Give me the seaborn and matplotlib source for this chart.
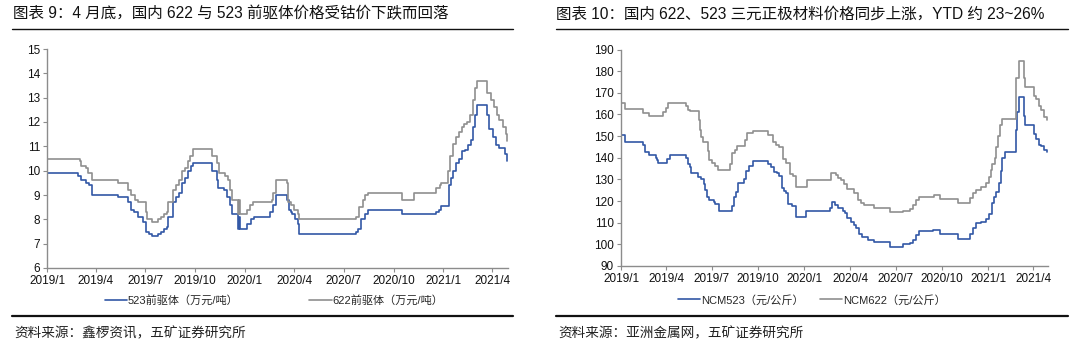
import matplotlib
matplotlib.use("Agg")
import matplotlib.pyplot as plt
from matplotlib.lines import Line2D
import seaborn as sns
import pandas as pd

# ---------------- data ----------------
# Left chart: precursor prices (10k CNY / t), step breakpoints
pre523_dates = ["2019-01-01", "2019-02-28", "2019-03-05", "2019-03-13", "2019-03-19", "2019-03-25",
                "2019-05-11", "2019-05-31", "2019-06-04", "2019-06-10", "2019-06-18", "2019-06-27",
                "2019-07-02", "2019-07-08", "2019-07-13", "2019-07-25", "2019-07-30", "2019-08-05",
                "2019-08-10", "2019-08-13", "2019-08-22", "2019-08-27", "2019-09-01", "2019-09-06",
                "2019-09-12", "2019-09-18", "2019-09-24", "2019-09-27", "2019-11-01", "2019-11-11",
                "2019-11-13", "2019-11-24", "2019-11-29", "2019-12-04", "2019-12-08", "2019-12-19",
                "2019-12-21", "2019-12-23", "2020-01-04", "2020-01-13", "2020-01-17", "2020-02-17",
                "2020-02-21", "2020-02-27", "2020-03-19", "2020-03-22", "2020-03-25", "2020-03-28",
                "2020-04-03", "2020-04-07", "2020-04-10", "2020-07-24", "2020-07-28", "2020-08-02",
                "2020-08-10", "2020-08-14", "2020-10-17", "2020-12-18", "2020-12-24", "2020-12-28",
                "2021-01-11", "2021-01-14", "2021-01-18", "2021-01-24", "2021-01-30", "2021-02-04",
                "2021-02-09", "2021-02-16", "2021-02-20", "2021-02-25", "2021-03-01", "2021-03-03",
                "2021-03-22", "2021-03-26", "2021-04-02", "2021-04-08", "2021-04-14", "2021-04-25",
                "2021-04-29"]
pre523_vals = [9.9, 9.8, 9.6, 9.5, 9.4, 9.0,
               8.9, 8.7, 8.4, 8.3, 8.1, 7.9,
               7.5, 7.4, 7.3, 7.4, 7.5, 7.6,
               7.7, 8.1, 8.7, 8.9, 9.1, 9.5,
               9.7, 10.0, 10.2, 10.3, 10.0, 9.6,
               9.3, 9.2, 8.9, 8.6, 8.2, 7.6,
               8.1, 7.6, 7.8, 8.0, 8.1, 8.3,
               8.6, 9.0, 8.8, 8.4, 8.3, 8.2,
               8.0, 7.8, 7.4, 7.5, 7.6, 8.0,
               8.2, 8.4, 8.2, 8.3, 8.4, 8.55,
               9.4, 9.7, 10.0, 10.3, 10.5, 10.8,
               10.85, 11.05, 11.25, 11.8, 12.3, 12.7,
               12.3, 11.7, 11.4, 11.05, 10.95, 10.7,
               10.4]

pre622_dates = ["2019-01-01", "2019-03-02", "2019-03-05", "2019-03-14", "2019-03-17", "2019-03-25",
                "2019-05-11", "2019-05-31", "2019-06-04", "2019-06-13", "2019-06-18", "2019-07-02",
                "2019-07-05", "2019-07-13", "2019-07-25", "2019-07-31", "2019-08-05", "2019-08-10",
                "2019-08-13", "2019-08-22", "2019-08-27", "2019-09-01", "2019-09-06", "2019-09-12",
                "2019-09-18", "2019-09-22", "2019-09-27", "2019-11-02", "2019-11-11", "2019-11-14",
                "2019-11-26", "2019-11-30", "2019-12-04", "2019-12-08", "2019-12-19", "2019-12-21",
                "2019-12-23", "2020-01-04", "2020-01-11", "2020-01-16", "2020-02-19", "2020-02-22",
                "2020-02-28", "2020-03-19", "2020-03-21", "2020-03-25", "2020-04-01", "2020-04-07",
                "2020-04-10", "2020-07-24", "2020-07-29", "2020-08-05", "2020-08-10", "2020-08-14",
                "2020-10-17", "2020-11-07", "2020-12-18", "2020-12-25", "2020-12-28", "2021-01-10",
                "2021-01-13", "2021-01-18", "2021-01-24", "2021-01-30", "2021-02-04", "2021-02-08",
                "2021-02-13", "2021-02-19", "2021-02-25", "2021-03-01", "2021-03-03", "2021-03-23",
                "2021-03-29", "2021-04-05", "2021-04-09", "2021-04-14", "2021-04-20", "2021-04-26",
                "2021-04-29"]
pre622_vals = [10.5, 10.4, 10.2, 10.1, 9.9, 9.6,
               9.5, 9.2, 9.0, 8.8, 8.7, 8.3,
               8.0, 7.9, 8.0, 8.1, 8.2, 8.3,
               8.7, 9.2, 9.4, 9.6, 10.0, 10.1,
               10.4, 10.6, 10.9, 10.6, 10.3, 9.9,
               9.8, 9.6, 9.2, 8.8, 8.2, 8.8,
               8.2, 8.4, 8.6, 8.7, 8.8, 9.1,
               9.6, 9.5, 8.7, 8.6, 8.4, 8.2,
               8.0, 8.1, 8.5, 8.8, 9.0, 9.1,
               8.8, 9.1, 9.3, 9.4, 9.5, 10.0,
               10.6, 11.1, 11.4, 11.6, 11.8, 11.9,
               12.0, 12.3, 12.9, 13.4, 13.7, 13.2,
               12.9, 12.6, 12.3, 12.1, 11.8, 11.5,
               11.2]

# Right chart: cathode material prices (CNY / kg), step breakpoints
ncm523_dates = ["2019-01-01", "2019-01-09", "2019-02-14", "2019-02-17", "2019-02-25", "2019-03-11",
                "2019-03-14", "2019-03-16", "2019-04-03", "2019-04-08", "2019-05-11", "2019-05-14",
                "2019-05-18", "2019-05-21", "2019-06-04", "2019-06-09", "2019-06-15", "2019-06-18",
                "2019-06-22", "2019-06-25", "2019-07-05", "2019-07-08", "2019-07-15", "2019-08-10",
                "2019-08-14", "2019-08-18", "2019-08-21", "2019-09-02", "2019-09-07", "2019-09-12",
                "2019-09-20", "2019-10-21", "2019-10-26", "2019-11-01", "2019-11-07", "2019-11-12",
                "2019-11-18", "2019-11-22", "2019-11-25", "2019-11-30", "2019-12-07", "2019-12-15",
                "2020-01-05", "2020-02-22", "2020-02-25", "2020-03-02", "2020-03-07", "2020-03-17",
                "2020-03-21", "2020-03-25", "2020-04-03", "2020-04-08", "2020-04-12", "2020-04-19",
                "2020-04-25", "2020-05-06", "2020-05-19", "2020-06-20", "2020-07-16", "2020-07-29",
                "2020-08-04", "2020-08-10", "2020-08-17", "2020-09-13", "2020-09-28", "2020-11-02",
                "2020-11-25", "2020-12-02", "2020-12-08", "2020-12-18", "2020-12-28", "2021-01-02",
                "2021-01-08", "2021-01-13", "2021-01-17", "2021-01-22", "2021-01-26", "2021-01-29",
                "2021-02-04", "2021-02-25", "2021-02-28", "2021-03-03", "2021-03-13", "2021-03-16",
                "2021-04-02", "2021-04-07", "2021-04-12", "2021-04-17", "2021-04-23", "2021-04-28"]
ncm523_vals = [150.5, 147.5, 146, 142.5, 141.5, 140,
               139, 137.5, 139.5, 141.5, 140, 137,
               135.5, 133, 131, 130, 128, 125,
               122, 120.5, 119.5, 118.5, 115.5, 117.5,
               122, 124, 128.5, 130, 134, 136,
               138.5, 137, 135.5, 133.5, 133, 131.5,
               126, 124.5, 123.5, 118.5, 117.5, 112.5,
               115.5, 117, 119.5, 118, 117, 115.5,
               114.5, 112, 110.5, 109, 107.5, 105,
               103.5, 102, 101, 99, 100, 100.5,
               102, 104.5, 106, 106.5, 105, 102.5,
               105, 107.5, 110, 110.5, 111.5, 114,
               119, 122, 124, 128.5, 134, 140,
               142.5, 153, 161, 168, 159.5, 155,
               151, 148.5, 146, 145.5, 143.5, 142.5]

ncm622_dates = ["2019-01-01", "2019-01-08", "2019-02-14", "2019-02-26", "2019-03-26", "2019-03-31",
                "2019-04-05", "2019-05-10", "2019-05-14", "2019-05-18", "2019-06-05", "2019-06-08",
                "2019-06-10", "2019-06-14", "2019-06-24", "2019-06-26", "2019-07-01", "2019-07-07",
                "2019-07-14", "2019-08-05", "2019-08-10", "2019-08-15", "2019-08-20", "2019-09-04",
                "2019-09-08", "2019-09-21", "2019-10-20", "2019-10-31", "2019-11-05", "2019-11-12",
                "2019-11-20", "2019-11-26", "2019-12-03", "2019-12-10", "2019-12-16", "2020-01-06",
                "2020-02-24", "2020-03-04", "2020-03-08", "2020-03-13", "2020-03-19", "2020-03-25",
                "2020-04-09", "2020-04-16", "2020-04-22", "2020-04-29", "2020-05-19", "2020-06-20",
                "2020-07-16", "2020-07-29", "2020-08-04", "2020-08-10", "2020-08-17", "2020-09-15",
                "2020-09-28", "2020-11-02", "2020-11-25", "2020-12-02", "2020-12-08", "2020-12-18",
                "2020-12-28", "2021-01-02", "2021-01-06", "2021-01-09", "2021-01-14", "2021-01-17",
                "2021-01-21", "2021-01-24", "2021-01-29", "2021-02-25", "2021-03-03", "2021-03-13",
                "2021-03-16", "2021-04-02", "2021-04-07", "2021-04-12", "2021-04-17", "2021-04-23",
                "2021-04-28"]
ncm622_vals = [165.5, 162.5, 160.5, 159.5, 161, 163,
               165.5, 164, 162, 161.5, 157.5, 153,
               149.5, 147.5, 143, 139, 137.5, 136,
               134.5, 137, 142, 143.5, 145.5, 148,
               151.5, 152.5, 150.5, 147.5, 146, 145,
               139.5, 137.5, 132.5, 131.5, 126.5, 129.5,
               133, 132, 130.5, 129.5, 128, 125.5,
               123.5, 120.5, 119, 118, 117, 115,
               115.5, 116.5, 118, 120.5, 122, 123,
               121, 119, 121.5, 123.5, 125, 126.5,
               128.5, 131, 134.5, 137, 140, 145,
               150, 155, 158, 177, 184.5, 177,
               172.5, 168.5, 167, 164, 162, 159,
               157.5]

tick_dates = ["2019-01-01", "2019-04-01", "2019-07-01", "2019-10-01", "2020-01-01",
              "2020-04-01", "2020-07-01", "2020-10-01", "2021-01-01", "2021-04-01"]
tick_labels = ["2019/1", "2019/4", "2019/7", "2019/10", "2020/1",
               "2020/4", "2020/7", "2020/10", "2021/1", "2021/4"]

left_title = "图表 9：4 月底，国内 622 与 523 前驱体价格受钴价下跌而回落"
right_title = "图表 10：国内 622、523 三元正极材料价格同步上涨，YTD 约 23~26%"
left_source = "资料来源：鑫椤资讯，五矿证券研究所"
right_source = "资料来源：亚洲金属网，五矿证券研究所"
left_labels = ["523前驱体（万元/吨）", "622前驱体（万元/吨）"]
right_labels = ["NCM523（元/公斤）", "NCM622（元/公斤）"]

# ---------------- style ----------------
sns.set_theme(style="white")
plt.rcParams["font.family"] = ["Liberation Sans", "Noto Sans CJK SC", "DejaVu Sans"]
plt.rcParams["axes.unicode_minus"] = False

BLUE = "#3258A6"
GRAY = "#8F8F8F"
AXC = "#8C8C8C"
W, H = 1080, 344

fig = plt.figure(figsize=(W / 100, H / 100), dpi=100)
fig.patch.set_facecolor("white")


def fx(px):
    return px / W


def fy(py):
    return 1 - py / H


def make_df(dates, vals):
    return pd.DataFrame({"date": pd.to_datetime(dates), "value": vals})


def style_axis(ax, yticks, ylim, xend):
    ax.set_xlim(pd.Timestamp("2019-01-01"), pd.Timestamp(xend))
    ax.set_ylim(*ylim)
    ax.set_yticks(yticks)
    ax.set_xticks(pd.to_datetime(tick_dates))
    ax.set_xticklabels(tick_labels)
    for s in ["top", "right"]:
        ax.spines[s].set_visible(False)
    for s in ["left", "bottom"]:
        ax.spines[s].set_color(AXC)
        ax.spines[s].set_linewidth(1.0)
    ax.tick_params(axis="both", which="major", direction="out", length=3, width=0.8,
                   color=AXC, labelsize=8.5, labelcolor="#111111", pad=2)
    ax.tick_params(axis="y", left=True)
    ax.tick_params(axis="x", bottom=True)
    ax.set_xlabel("")
    ax.set_ylabel("")
    ax.grid(False)
    ax.set_facecolor("white")


# ---- left chart ----
axL = fig.add_axes([fx(47), fy(268), fx(508 - 47), (268 - 49) / H])
sns.lineplot(data=make_df(pre523_dates, pre523_vals), x="date", y="value", ax=axL,
             color=BLUE, lw=1.2, drawstyle="steps-post", errorbar=None, label=left_labels[0])
sns.lineplot(data=make_df(pre622_dates, pre622_vals), x="date", y="value", ax=axL,
             color=GRAY, lw=1.2, drawstyle="steps-post", errorbar=None, label=left_labels[1])
style_axis(axL, list(range(6, 16)), (6, 15), "2021-04-30")
h, l = axL.get_legend_handles_labels()
axL.legend(h, l, ncol=2, loc="center", bbox_to_anchor=(fx(274), fy(300)),
           bbox_transform=fig.transFigure, frameon=False, fontsize=8,
           handlelength=2.0, handletextpad=0.05, columnspacing=6.4, borderaxespad=0)

# ---- right chart ----
axR = fig.add_axes([fx(621), fy(266), fx(1048 - 621), (266 - 49.5) / H])
sns.lineplot(data=make_df(ncm523_dates, ncm523_vals), x="date", y="value", ax=axR,
             color=BLUE, lw=1.2, drawstyle="steps-post", errorbar=None, label=right_labels[0])
sns.lineplot(data=make_df(ncm622_dates, ncm622_vals), x="date", y="value", ax=axR,
             color=GRAY, lw=1.2, drawstyle="steps-post", errorbar=None, label=right_labels[1])
style_axis(axR, list(range(90, 191, 10)), (90, 190), "2021-04-30")
h, l = axR.get_legend_handles_labels()
axR.legend(h, l, ncol=2, loc="center", bbox_to_anchor=(fx(812), fy(300)),
           bbox_transform=fig.transFigure, frameon=False, fontsize=8,
           handlelength=2.0, handletextpad=0.05, columnspacing=1.5, borderaxespad=0)

# ---- titles, rules, sources ----
fig.text(fx(13), fy(14), left_title, fontsize=11.2, va="center", ha="left", color="#111111")
fig.text(fx(556), fy(14), right_title, fontsize=11.2, va="center", ha="left", color="#111111")
for x0, x1 in [(12, 513), (556, 1068)]:
    fig.add_artist(Line2D([fx(x0), fx(x1)], [fy(28.5), fy(28.5)], transform=fig.transFigure,
                          color="#111111", lw=1.0))
    fig.add_artist(Line2D([fx(x0), fx(x1)], [fy(315.5), fy(315.5)], transform=fig.transFigure,
                          color="#111111", lw=1.6))
fig.text(fx(14), fy(333), left_source, fontsize=9.8, va="center", ha="left", color="#222222")
fig.text(fx(558), fy(333), right_source, fontsize=9.8, va="center", ha="left", color="#222222")

fig.savefig("out.png", dpi=100, facecolor="white")
